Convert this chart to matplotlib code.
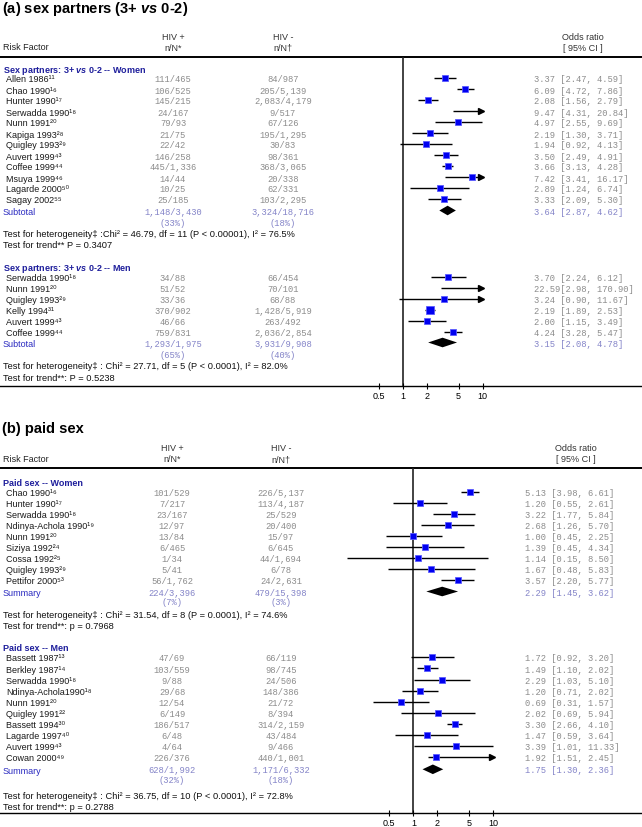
import numpy as np
import matplotlib
matplotlib.use("Agg")
import matplotlib.pyplot as plt
from matplotlib.ticker import NullLocator

plt.rcParams.update({
    'font.family': ['Liberation Sans', 'DejaVu Sans'],
    'mathtext.fontset': 'custom',
    'mathtext.rm': 'Liberation Sans',
    'mathtext.it': 'Liberation Sans:italic',
    'mathtext.bf': 'Liberation Sans:bold:italic',
    'mathtext.default': 'regular',
})

# ---------------- DATA ----------------
# (a) sex partners 3+ vs 0-2 -- Women
a_w_study = ["Allen 1986", "Chao 1990", "Hunter 1990", "Serwadda 1990", "Nunn 1991", "Kapiga 1993",
             "Quigley 1993", "Auvert 1999", "Coffee 1999", "Msuya 1999", "Lagarde 2000", "Sagay 2002"]
a_w_ref = [11, 16, 17, 18, 20, 28, 29, 43, 44, 46, 50, 55]
a_w_pos_n = [111, 106, 145, 24, 79, 21, 22, 146, 445, 14, 10, 25]
a_w_pos_N = [465, 525, 215, 167, 93, 75, 42, 258, 1336, 44, 25, 185]
a_w_neg_n = [84, 205, 2083, 9, 67, 195, 30, 98, 368, 20, 62, 103]
a_w_neg_N = [987, 5139, 4179, 517, 126, 1295, 83, 361, 3065, 338, 331, 2295]
a_w_or = [3.37, 6.09, 2.08, 9.47, 4.97, 2.19, 1.94, 3.50, 3.66, 7.42, 2.89, 3.33]
a_w_lo = [2.47, 4.72, 1.56, 4.31, 2.55, 1.30, 0.92, 2.49, 3.13, 3.41, 1.24, 2.09]
a_w_hi = [4.59, 7.86, 2.79, 20.84, 9.69, 3.71, 4.13, 4.91, 4.28, 16.17, 6.74, 5.30]
a_w_arrow = [False, False, False, True, False, False, False, False, False, True, False, False]
a_w_weight = [5, 4.5, 5, 4.5, 4.5, 4.5, 4.5, 5, 5, 4.5, 4.5, 4.5]
a_w_sum_pos = (1148, 3430, 33)
a_w_sum_neg = (3324, 18716, 18)
a_w_sum_or = (3.64, 2.87, 4.62)
a_w_het = "Test for heterogeneity\u2021 :Chi\u00b2 = 46.79, df = 11 (P < 0.00001), I\u00b2 = 76.5%"
a_w_trend = "Test for trend** P = 0.3407"

# (a) Men
a_m_study = ["Serwadda 1990", "Nunn 1991", "Quigley 1993", "Kelly 1994", "Auvert 1999", "Coffee 1999"]
a_m_ref = [18, 20, 29, 31, 43, 44]
a_m_pos_n = [34, 51, 33, 370, 46, 759]
a_m_pos_N = [88, 52, 36, 902, 66, 831]
a_m_neg_n = [66, 70, 68, 1428, 263, 2036]
a_m_neg_N = [454, 101, 88, 5919, 492, 2854]
a_m_or = [3.70, 22.59, 3.24, 2.19, 2.00, 4.24]
a_m_lo = [2.24, 2.98, 0.90, 1.89, 1.15, 3.28]
a_m_hi = [6.12, 170.90, 11.67, 2.53, 3.49, 5.47]
a_m_arrow = [False, True, True, False, False, False]
a_m_weight = [5, 4.5, 4.5, 6, 5, 5.5]
a_m_sum_pos = (1293, 1975, 65)
a_m_sum_neg = (3931, 9908, 40)
a_m_sum_or = (3.15, 2.08, 4.78)
a_m_het = "Test for heterogeneity\u2021 : Chi\u00b2 = 27.71, df = 5 (P < 0.0001), I\u00b2 = 82.0%"
a_m_trend = "Test for trend**: P = 0.5238"

# (b) paid sex -- Women
b_w_study = ["Chao 1990", "Hunter 1990", "Serwadda 1990", "Ndinya-Achola 1990", "Nunn 1991",
             "Siziya 1992", "Cossa 1992", "Quigley 1993", "Pettifor 2000"]
b_w_ref = [16, 17, 18, 19, 20, 24, 25, 29, 53]
b_w_pos_n = [101, 7, 23, 12, 13, 6, 1, 5, 56]
b_w_pos_N = [529, 217, 167, 97, 84, 465, 34, 41, 1762]
b_w_neg_n = [226, 113, 25, 20, 15, 6, 44, 6, 24]
b_w_neg_N = [5137, 4187, 529, 400, 97, 645, 1694, 78, 2631]
b_w_or = [5.13, 1.20, 3.22, 2.68, 1.00, 1.39, 1.14, 1.67, 3.57]
b_w_lo = [3.98, 0.55, 1.77, 1.26, 0.45, 0.45, 0.15, 0.48, 2.20]
b_w_hi = [6.61, 2.61, 5.84, 5.70, 2.25, 4.34, 8.50, 5.83, 5.77]
b_w_arrow = [False] * 9
b_w_weight = [5, 4.5, 5, 4.5, 5, 4.5, 4.5, 4.5, 4.5]
b_w_sum_pos = (224, 3396, 7)
b_w_sum_neg = (479, 15398, 3)
b_w_sum_or = (2.29, 1.45, 3.62)
b_w_het = "Test for heterogeneity\u2021 : Chi\u00b2 = 31.54, df = 8 (P = 0.0001), I\u00b2 = 74.6%"
b_w_trend = "Test for trend**: p = 0.7968"

# (b) Men
b_m_study = ["Bassett 1987", "Berkley 1987", "Serwadda 1990", "Ndinya-Achola1990", "Nunn 1991",
             "Quigley 1991", "Bassett 1994", "Lagarde 1997", "Auvert 1999", "Cowan 2000"]
b_m_ref = [13, 14, 18, 18, 20, 22, 30, 40, 43, 49]
b_m_pos_n = [47, 103, 9, 29, 12, 6, 186, 6, 4, 226]
b_m_pos_N = [69, 559, 88, 68, 54, 149, 517, 48, 64, 376]
b_m_neg_n = [66, 98, 24, 148, 21, 8, 314, 43, 9, 440]
b_m_neg_N = [119, 745, 506, 386, 72, 394, 2159, 484, 466, 1001]
b_m_or = [1.72, 1.49, 2.29, 1.20, 0.69, 2.02, 3.30, 1.47, 3.39, 1.92]
b_m_lo = [0.92, 1.10, 1.03, 0.71, 0.31, 0.69, 2.66, 0.59, 1.01, 1.51]
b_m_hi = [3.20, 2.02, 5.10, 2.02, 1.57, 5.94, 4.10, 3.64, 11.33, 2.45]
b_m_arrow = [False, False, False, False, False, False, False, False, False, True]
b_m_weight = [4.5, 5, 4.5, 4.5, 4.5, 4.5, 5.5, 4.5, 4.5, 4.5]
b_m_sum_pos = (628, 1992, 32)
b_m_sum_neg = (1171, 6332, 18)
b_m_sum_or = (1.75, 1.30, 2.36)
b_m_het = "Test for heterogeneity\u2021 : Chi\u00b2 = 36.75, df = 10 (P < 0.0001), I\u00b2 = 72.8%"
b_m_trend = "Test for trend**: p = 0.2788"

tick_vals = [0.5, 1, 2, 5, 10]
tick_labels = ["0.5", "1", "2", "5", "10"]
clip_max = 10

# ---------------- STYLE ----------------
FS = 6.5
MFS = 6.3
NAVY = '#1f1f9c'
BLUE = '#2a2ac0'
LAV = '#8484c8'
GRAY = '#8c8c8c'
MONO = 'Liberation Mono'
PPD = 80.0  # pixels per decade
W, H = 642, 828
SUP = str.maketrans("0123456789", "\u2070\u00b9\u00b2\u00b3\u2074\u2075\u2076\u2077\u2078\u2079")

fig = plt.figure(figsize=(W / 100, H / 100), dpi=100)
ax = fig.add_axes([0, 0, 1, 1])
ax.set_xlim(0, W)
ax.set_ylim(H, 0)
ax.axis('off')

OFF = 3.2  # center -> baseline offset for small text


def txt(x, y, s, **kw):
    kw.setdefault('fontsize', FS)
    ax.text(x, y + OFF, s, va='baseline', **kw)


def or_text(e, l, h):
    return f"{e:<5.2f}[{l:.2f}, {h:.2f}]"


def make_forest(top, bottom, x1):
    fa = fig.add_axes([330 / W, 1 - bottom / H, (600 - 330) / W, (bottom - top) / H])
    fa.set_xscale('log')
    fa.set_xlim(10 ** ((330 - x1) / PPD), 10 ** ((600 - x1) / PPD))
    fa.set_ylim(bottom, top)
    fa.patch.set_visible(False)
    for s in fa.spines.values():
        s.set_visible(False)
    fa.set_xticks(tick_vals)
    fa.set_xticklabels(tick_labels)
    fa.xaxis.set_minor_locator(NullLocator())
    fa.tick_params(axis='x', direction='inout', length=4, width=0.8, labelsize=FS, pad=1.5)
    fa.set_yticks([])
    fa.axvline(1, color='#222222', lw=1.2, zorder=1)
    return fa


def draw_panel(title, title_y, top_line, axis_y, x1, pos_x, neg_x, or_x, orh_x):
    ax.text(2, title_y, title, fontsize=10.5, fontweight='bold', va='baseline', color='black')
    txt(pos_x, top_line - 21, "HIV +", ha='center', color='#333333')
    txt(pos_x, top_line - 10, "n/N*", ha='center', color='#333333')
    txt(neg_x, top_line - 21, "HIV -", ha='center', color='#333333')
    txt(neg_x, top_line - 10, "n/N\u2020", ha='center', color='#333333')
    txt(3, top_line - 10.5, "Risk Factor", color='#222222')
    txt(orh_x, top_line - 21, "Odds ratio", ha='center', color='#333333')
    txt(orh_x, top_line - 10, "[ 95% CI ]", ha='center', color='#333333')
    ax.plot([0, W], [top_line, top_line], color='black', lw=1.4)
    ax.plot([0, W], [axis_y, axis_y], color='black', lw=1.0)
    return make_forest(top_line, axis_y, x1)


def draw_group(fa, lay, header, study, ref, pn, pN, nn, nN, est, lo, hi, arrow, weight,
               spos, sneg, sor, het, trend, sum_label, pos_x, neg_x, or_x):
    hy, y0, step, sy, py, hety, try_ = lay
    txt(3, hy, header, fontweight='bold', color=NAVY)
    ys = y0 + step * np.arange(len(study))
    for i, y in enumerate(ys):
        txt(6, y, f"{study[i]}{str(ref[i]).translate(SUP)}", color='#1a1a1a')
        txt(pos_x, y, f"{pn[i]:,}/{pN[i]:,}", ha='center', color=GRAY, family=MONO, fontsize=MFS)
        txt(neg_x, y, f"{nn[i]:,}/{nN[i]:,}", ha='center', color=GRAY, family=MONO, fontsize=MFS)
        txt(or_x, y, or_text(est[i], lo[i], hi[i]), color=GRAY, family=MONO, fontsize=MFS)
        hi_c = clip_max if arrow[i] else min(hi[i], clip_max)
        fa.plot([lo[i], hi_c], [y, y], color='black', lw=1.0, zorder=2, solid_capstyle='butt')
        hidden = est[i] > clip_max or (arrow[i] and est[i] > 0.9 * clip_max)
        if not hidden:
            fa.plot([est[i]], [y], marker='s', ms=weight[i] * 0.85, mfc='#0000f0',
                    mec='#5a5aff', mew=0.6, ls='none', zorder=3)
        if arrow[i]:
            fa.plot([hi_c * 0.96], [y], marker='>', ms=5, color='black', ls='none', zorder=4)
    # summary
    txt(3, sy + 0.5, sum_label, color=BLUE)
    txt(pos_x, sy, f"{spos[0]:,}/{spos[1]:,}", ha='center', color=LAV, family=MONO, fontsize=MFS)
    txt(neg_x, sy, f"{sneg[0]:,}/{sneg[1]:,}", ha='center', color=LAV, family=MONO, fontsize=MFS)
    txt(pos_x, py, f"({spos[2]}%)", ha='center', color=LAV, family=MONO, fontsize=MFS)
    txt(neg_x, py, f"({sneg[2]}%)", ha='center', color=LAV, family=MONO, fontsize=MFS)
    txt(or_x, sy, or_text(*sor), color=LAV, family=MONO, fontsize=MFS)
    e, l, h = sor
    fa.fill([l, e, h, e], [sy, sy - 4.8, sy, sy + 4.8], color='black', zorder=3, lw=0)
    txt(3, hety, het, color='#111111', fontsize=6.7)
    txt(3, try_, trend, color='#111111', fontsize=6.7)


# ---- panel (a)
fa_a = draw_panel("(a) sex partners (3+ $\\mathbf{vs}$ 0-2)", 13.0, 57.5, 387, 402.7,
                  173, 283, 534, 583)
draw_group(fa_a, (69.5, 79.3, 11.0, 211.5, 222.5, 233.5, 245.0),
           "Sex partners: 3+ $\\mathbf{vs}$ 0-2 -- Women",
           a_w_study, a_w_ref, a_w_pos_n, a_w_pos_N, a_w_neg_n, a_w_neg_N,
           a_w_or, a_w_lo, a_w_hi, a_w_arrow, a_w_weight,
           a_w_sum_pos, a_w_sum_neg, a_w_sum_or, a_w_het, a_w_trend, "Subtotal", 173, 283, 534)
draw_group(fa_a, (267.7, 277.7, 10.97, 343.5, 354.7, 366.3, 377.7),
           "Sex partners: 3+ $\\mathbf{vs}$ 0-2 -- Men",
           a_m_study, a_m_ref, a_m_pos_n, a_m_pos_N, a_m_neg_n, a_m_neg_N,
           a_m_or, a_m_lo, a_m_hi, a_m_arrow, a_m_weight,
           a_m_sum_pos, a_m_sum_neg, a_m_sum_or, a_m_het, a_m_trend, "Subtotal", 173, 283, 534)

# ---- panel (b)
fa_b = draw_panel("(b) paid sex", 433.0, 469.0, 814, 413.4, 172, 281, 525, 576)
draw_group(fa_b, (482.7, 493.0, 11.0, 592.5, 602.0, 615.3, 625.7),
           "Paid sex -- Women",
           b_w_study, b_w_ref, b_w_pos_n, b_w_pos_N, b_w_neg_n, b_w_neg_N,
           b_w_or, b_w_lo, b_w_hi, b_w_arrow, b_w_weight,
           b_w_sum_pos, b_w_sum_neg, b_w_sum_or, b_w_het, b_w_trend, "Summary", 172, 281, 525)
draw_group(fa_b, (647.7, 658.3, 11.1, 770.3, 779.8, 795.7, 806.7),
           "Paid sex -- Men",
           b_m_study, b_m_ref, b_m_pos_n, b_m_pos_N, b_m_neg_n, b_m_neg_N,
           b_m_or, b_m_lo, b_m_hi, b_m_arrow, b_m_weight,
           b_m_sum_pos, b_m_sum_neg, b_m_sum_or, b_m_het, b_m_trend, "Summary", 172, 281, 525)

fig.savefig("out.png", dpi=100)
